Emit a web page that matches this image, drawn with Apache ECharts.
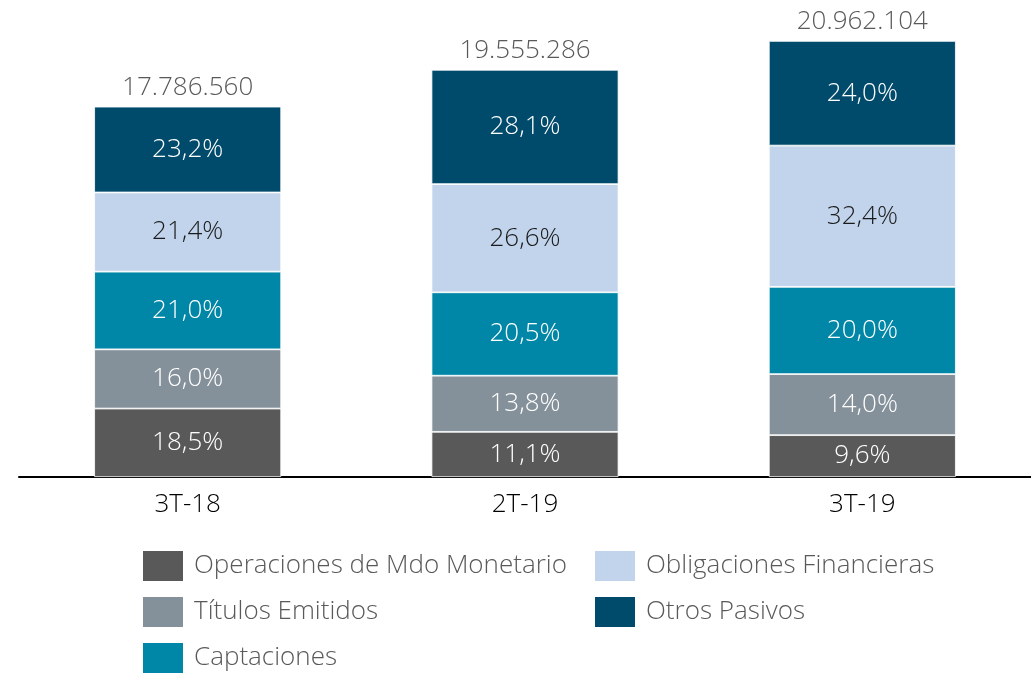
<!DOCTYPE html>
<html>
<head>
<meta charset="utf-8">
<script src="https://cdn.jsdelivr.net/npm/echarts@6/dist/echarts.min.js"></script>
<style>html,body{margin:0;padding:0;background:#fff;}#c{width:1031px;height:674px;}</style>
</head>
<body>
<div id="c"></div>
<script>
const categories = ['3T-18', '2T-19', '3T-19'];
const totals = [17786560, 19555286, 20962104];
const pctOperaciones = [18.5, 11.1, 9.6];
const pctTitulos = [16.0, 13.8, 14.0];
const pctCaptaciones = [21.0, 20.5, 20.0];
const pctObligaciones = [21.4, 26.6, 32.4];
const pctOtros = [23.2, 28.1, 24.0];

const FONT = '"Open Sans", "Noto Sans", sans-serif';
const FS = 26;
const seriesDefs = [
  {name: 'Operaciones de Mdo Monetario', pct: pctOperaciones, color: '#595959', text: '#ffffff', lx: 141, row: 0},
  {name: 'Títulos Emitidos', pct: pctTitulos, color: '#85919a', text: '#ffffff', lx: 141, row: 1},
  {name: 'Captaciones', pct: pctCaptaciones, color: '#0086a6', text: '#ffffff', lx: 141, row: 2},
  {name: 'Obligaciones Financieras', pct: pctObligaciones, color: '#c1d4ec', text: '#1a1a1a', lx: 593, row: 0},
  {name: 'Otros Pasivos', pct: pctOtros, color: '#004b6b', text: '#ffffff', lx: 593, row: 1}
];

function fmtPct(v) { return v.toFixed(1).replace('.', ',') + '%'; }
function fmtTotal(v) { return String(v).replace(/\B(?=(\d{3})+(?!\d))/g, '.'); }

const series = seriesDefs.map(d => ({
  name: d.name,
  type: 'bar',
  stack: 'total',
  barWidth: 187,
  data: d.pct.map((p, i) => totals[i] * p / 100),
  itemStyle: {color: d.color, borderColor: '#ffffff', borderWidth: 0.8},
  label: {
    show: true,
    position: 'inside',
    color: d.text,
    fontFamily: FONT,
    fontWeight: 300,
    fontSize: FS,
    formatter: p => fmtPct(d.pct[p.dataIndex])
  }
}));
series.push({
  name: 'Total',
  type: 'bar',
  stack: 'total',
  barWidth: 187,
  data: totals.map(() => 0),
  itemStyle: {color: 'transparent'},
  label: {
    show: true,
    position: 'top',
    distance: 6,
    color: '#595959',
    fontFamily: FONT,
    fontWeight: 300,
    fontSize: FS,
    formatter: p => fmtTotal(totals[p.dataIndex])
  }
});

const legends = seriesDefs.map(d => ({
  left: d.lx,
  top: 549 + d.row * 46,
  padding: 0,
  itemWidth: 42,
  itemHeight: 32,
  icon: 'rect',
  selectedMode: false,
  data: [d.name],
  textStyle: {color: '#595959', fontFamily: FONT, fontWeight: 300, fontSize: FS, padding: [0, 0, 0, 5]}
}));

const chart = echarts.init(document.getElementById('c'));
chart.setOption({
  animation: false,
  backgroundColor: '#ffffff',
  grid: {left: 19, right: 0, top: 0, bottom: 197, containLabel: false},
  xAxis: {
    type: 'category',
    data: categories,
    axisLine: {show: true, lineStyle: {color: '#000000', width: 2}},
    axisTick: {show: false},
    axisLabel: {color: '#000000', fontFamily: FONT, fontWeight: 300, fontSize: FS, margin: 15}
  },
  yAxis: {
    type: 'value',
    min: 0,
    max: 22930000,
    show: false,
    splitLine: {show: false}
  },
  legend: legends,
  series: series
});
</script>
</body>
</html>
